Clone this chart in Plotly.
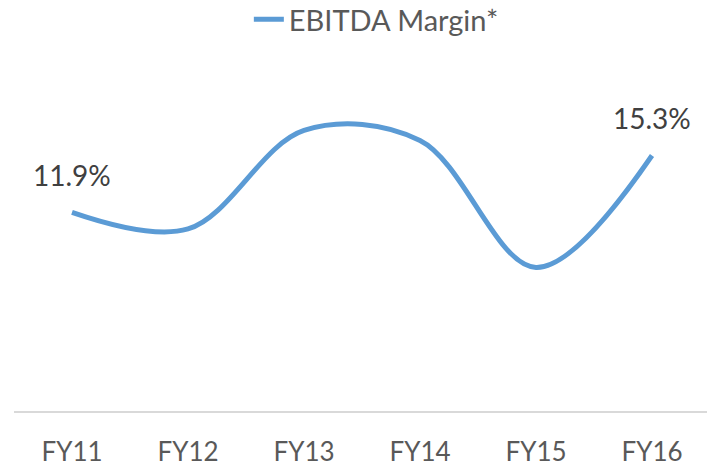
import plotly.graph_objects as go

categories = ["FY11", "FY12", "FY13", "FY14", "FY15", "FY16"]
margin_values = [11.9, 10.9, 16.8, 16.2, 8.6, 15.3]
label_text = ["11.9%", "", "", "", "", "15.3%"]
series_name = "EBITDA Margin*"

FONT = "Lato"
LINE_COLOR = "#5B9BD5"

fig = go.Figure()
fig.add_trace(go.Scatter(
    x=categories, y=margin_values, mode="lines", name=series_name,
    line=dict(color=LINE_COLOR, width=5, shape="spline", smoothing=1.0),
    hoverinfo="skip",
))

for c, v, t in zip(categories, margin_values, label_text):
    if t:
        fig.add_annotation(x=c, y=v, text=t, showarrow=False, yshift=37,
                           font=dict(family=FONT, size=28, color="#404040"))

# the page body adds an 8px margin, so the figure is 8px smaller than the window
fig.update_layout(
    width=707, height=458,
    margin=dict(l=6, r=5, t=69, b=55, autoexpand=False),
    paper_bgcolor="white", plot_bgcolor="white",
    showlegend=True,
    legend=dict(orientation="h", x=0.521, xanchor="center", y=0.975, yanchor="middle",
                xref="container", yref="container",
                font=dict(family=FONT, size=29, color="#595959"),
                bgcolor="rgba(0,0,0,0)", borderwidth=0),
    xaxis=dict(showline=True, linecolor="#D9D9D9", linewidth=1.5, showgrid=False,
               ticks="", tickfont=dict(family=FONT, size=26, color="#595959"),
               ticklabelstandoff=17,
               zeroline=False, range=[-0.5, 5.5], automargin=False),
    yaxis=dict(visible=False, range=[0, 20], showgrid=False, zeroline=False),
)

fig.write_html("out.html")
